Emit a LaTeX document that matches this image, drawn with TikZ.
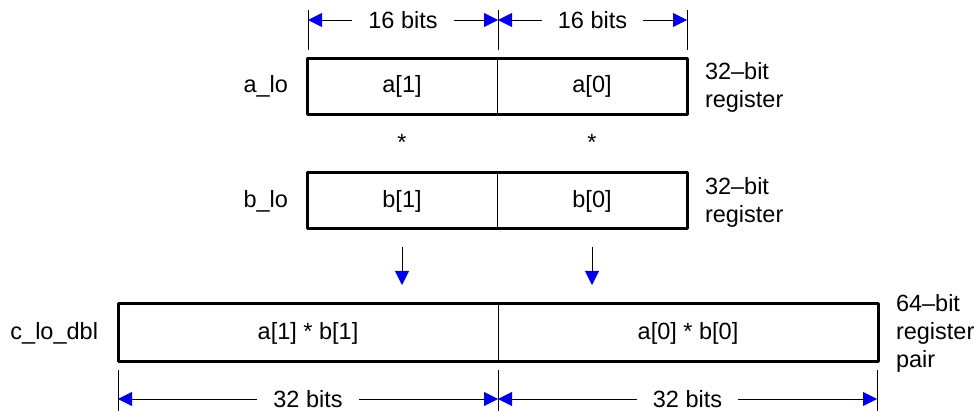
\documentclass[tikz,border=0pt]{standalone}
\usepackage{fontspec}
\setmainfont{Liberation Sans}
\usetikzlibrary{arrows.meta}
\definecolor{tipblue}{RGB}{0,0,230}
\tikzset{btip/.tip={Triangle[length=14pt,width=14pt,color=tipblue]}}
\begin{document}
\begin{tikzpicture}[x=1pt,y=-1pt,
  every node/.style={font=\fontsize{23.5}{28}\selectfont, inner sep=0pt, outer sep=0pt},
  cell/.style={draw, line width=1pt, minimum height=56pt},
  frame/.style={line width=3pt, line join=round},
  dim/.style={line width=0.8pt, btip-btip},
  ext/.style={line width=0.8pt},
  flow/.style={line width=0.8pt, -btip},
  lbl/.style={anchor=east},
  note/.style={anchor=west, align=left},
  dimtext/.style={fill=white, inner xsep=16pt, inner ysep=0pt}]
\useasboundingbox (0,0) rectangle (977,411);
% top register a_lo
\node[cell, minimum width=190pt] (a1) at (402,86.5) {a[1]};
\node[cell, minimum width=190pt] (a0) at (592,86.5) {a[0]};
\draw[frame] (a1.north west) rectangle (a0.south east);
\node[lbl] (alo) at (288,86.5) {a\_lo};
\node[note] (anote) at (705,87) {32–bit\\register};
% asterisks
\node (s1) at (402,142) {*};
\node (s0) at (592,142) {*};
% b_lo
\node[cell, minimum width=190pt] (b1) at (402,201) {b[1]};
\node[cell, minimum width=190pt] (b0) at (592,201) {b[0]};
\draw[frame] (b1.north west) rectangle (b0.south east);
\node[lbl] (blo) at (288,201) {b\_lo};
\node[note] (bnote) at (705,202) {32–bit\\register};
% c_lo_dbl
\node[cell, minimum width=380pt, minimum height=58pt] (c1) at (308,333) {a[1] * b[1]};
\node[cell, minimum width=380pt, minimum height=58pt] (c0) at (688,333) {a[0] * b[0]};
\draw[frame] (c1.north west) rectangle (c0.south east);
\node[lbl] (clo) at (98,333) {c\_lo\_dbl};
\node[note] (cnote) at (896,333) {64–bit\\register\\pair};
% flow arrows
\draw[flow, shorten <=18pt, shorten >=19pt] (b1.south) -- (b1.south |- c1.north);
\draw[flow, shorten <=18pt, shorten >=19pt] (b0.south) -- (b0.south |- c0.north);
% top dimensions
\coordinate (tl) at (308,10);
\coordinate (tm) at (498,10);
\coordinate (tr) at (687,10);
\draw[ext] (tl) -- ++(0,40);
\draw[ext] (tm) -- ++(0,40);
\draw[ext] (tr) -- ++(0,40);
\draw[dim] ([yshift=-10pt]tl) -- node[dimtext] (d1) {16 bits} ([yshift=-10pt]tm);
\draw[dim] ([yshift=-10pt]tm) -- node[dimtext] (d2) {16 bits} ([yshift=-10pt]tr);
% bottom dimensions
\coordinate (bl) at (118,370);
\coordinate (bm) at (498,370);
\coordinate (br) at (877,370);
\draw[ext] (bl) -- ++(0,41);
\draw[ext] (bm) -- ++(0,41);
\draw[ext] (br) -- ++(0,41);
\draw[dim] ([yshift=-29pt]bl) -- node[dimtext] (d3) {32 bits} ([yshift=-29pt]bm);
\draw[dim] ([yshift=-29pt]bm) -- node[dimtext] (d4) {32 bits} ([yshift=-29pt]br);
\end{tikzpicture}
\end{document}
